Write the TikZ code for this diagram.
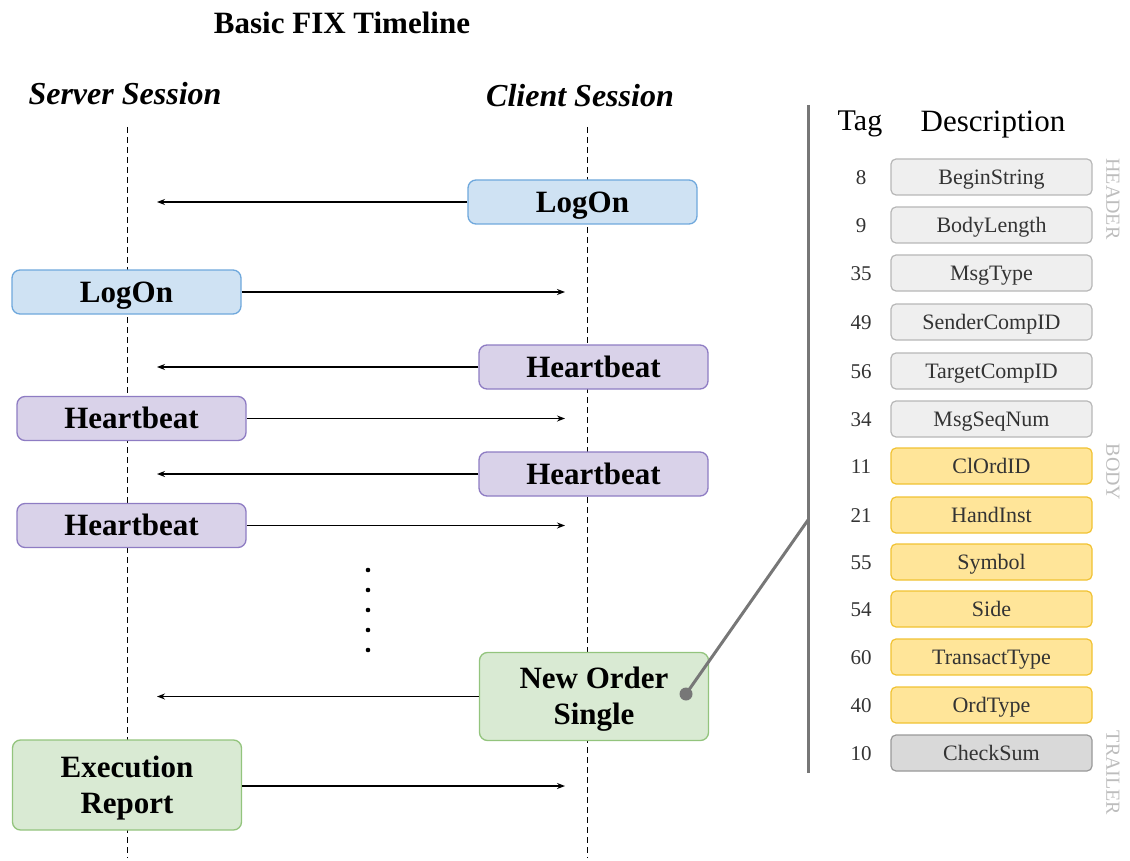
\documentclass[tikz,border=0pt]{standalone}
\usepackage{fontspec}
\setmainfont{Liberation Serif}
\usetikzlibrary{arrows.meta}
\definecolor{blueF}{HTML}{CFE2F3}\definecolor{blueD}{HTML}{6FA8DC}
\definecolor{purpF}{HTML}{D9D2E9}\definecolor{purpD}{HTML}{8E7CC3}
\definecolor{greenF}{HTML}{D9EAD3}\definecolor{greenD}{HTML}{93C47D}
\definecolor{hdrF}{HTML}{EFEFEF}\definecolor{hdrD}{HTML}{B7B7B7}
\definecolor{bodyF}{HTML}{FFE599}\definecolor{bodyD}{HTML}{F1C232}
\definecolor{trlF}{HTML}{D9D9D9}\definecolor{trlD}{HTML}{999999}
\definecolor{sidelbl}{HTML}{BDBDBD}
\definecolor{barcol}{HTML}{777777}
\definecolor{tagcol}{HTML}{333333}
\begin{document}
\begin{tikzpicture}[x=1pt,y=-1pt,
  msg/.style={draw, rounded corners=8pt, line width=1.3pt, minimum width=229pt,
    font=\fontsize{31}{36}\selectfont\bfseries, align=center, inner sep=0pt},
  one/.style={text height=20.5pt, text depth=0pt},
  two/.style={text height=56.5pt, text depth=0pt},
  logon/.style={msg, one, fill=blueF, draw=blueD, minimum height=44pt},
  heart/.style={msg, one, fill=purpF, draw=purpD, minimum height=44pt},
  order/.style={msg, two, fill=greenF, draw=greenD, minimum height=88pt},
  arr/.style={line width=1.3pt, -{Stealth[length=8pt,width=6pt]}},
  life/.style={line width=1pt, dash pattern=on 6pt off 4pt},
  field/.style={draw, rounded corners=5pt, line width=1.2pt, minimum width=201pt,
    minimum height=36pt, inner sep=0pt, font=\fontsize{22}{22}\selectfont, text=tagcol,
    text height=14.6pt, text depth=0pt},
  hdr/.style={field, fill=hdrF, draw=hdrD},
  bdy/.style={field, fill=bodyF, draw=bodyD},
  trl/.style={field, fill=trlF, draw=trlD},
  tagnum/.style={font=\fontsize{21}{21}\selectfont, text=tagcol, text height=14.5pt, text depth=0pt},
  side/.style={rotate=-90, text=sidelbl, font=\fontsize{20}{20}\selectfont},
  sess/.style={font=\fontsize{32}{32}\selectfont\bfseries\itshape, text height=21pt, text depth=0pt}
]
\useasboundingbox (0,0) rectangle (1130,861);

% title and session labels
\node[font=\fontsize{31}{31}\selectfont\bfseries, text height=20.5pt, text depth=0pt] (title) at (342,23) {Basic FIX Timeline};
\node[sess] (srv) at (125,94) {Server Session};
\node[sess] (cli) at (580,96) {Client Session};

% lifelines
\coordinate (Stop) at (127,127); \coordinate (Sbot) at (127,858);
\coordinate (Ctop) at (587,127); \coordinate (Cbot) at (587,858);
\draw[life] (Stop) -- (Sbot);
\draw[life] (Ctop) -- (Cbot);

% message boxes
\node[logon] (c1) at (582.5,202) {LogOn};
\node[logon] (s1) at (126.5,292) {LogOn};
\node[heart] (c2) at (593.5,367) {Heartbeat};
\node[heart] (s2) at (131.5,418.5) {Heartbeat};
\node[heart] (c3) at (593.5,474) {Heartbeat};
\node[heart] (s3) at (131.5,525.5) {Heartbeat};
\node[order] (c4) at (594,696.5) {New Order\\Single};
\node[order, minimum height=90pt] (s4) at (127,785) {Execution\\Report};

% arrow ends
\coordinate (a1) at (157,202);
\coordinate (a2) at (565,292);
\coordinate (a3) at (157,367);
\coordinate (a4) at (565,418.5);
\coordinate (a5) at (157,474);
\coordinate (a6) at (565,525.5);
\coordinate (a7) at (157,696.5);
\coordinate (a8) at (565,786);

\draw[arr] (c1.west) -- (a1);
\draw[arr] (s1.east) -- (a2);
\draw[arr] (c2.west) -- (a3);
\draw[arr] (s2.east) -- (a4);
\draw[arr] (c3.west) -- (a5);
\draw[arr] (s3.east) -- (a6);
\draw[arr] (c4.west) -- (a7);
\draw[arr] (s4.east |- a8) -- (a8);

% ellipsis dots
\foreach \yy in {570,590,610,630,650} \fill (368,\yy) circle (2.3pt);

% message detail bar
\coordinate (bartop) at (808,105);
\coordinate (barbot) at (808,773);
\coordinate (barjoin) at (808,520);
\draw[line width=3pt, barcol] (bartop) -- (barbot);
\node[circle, fill=barcol, inner sep=0pt, minimum size=13pt] (pin) at (686,694) {};
\draw[line width=3pt, barcol] (pin.center) -- (barjoin);

% table header
\node[font=\fontsize{30}{30}\selectfont, text height=20pt, text depth=0pt] (tagh) at (860,121) {Tag};
\node[font=\fontsize{31}{31}\selectfont, text height=20.5pt, text depth=0pt] (desch) at (993,121) {Description};

% table rows
\foreach \i/\t/\d/\s/\yy in {
  1/8/BeginString/hdr/177, 2/9/BodyLength/hdr/225, 3/35/MsgType/hdr/273,
  4/49/SenderCompID/hdr/322, 5/56/TargetCompID/hdr/371, 6/34/MsgSeqNum/hdr/419,
  7/11/ClOrdID/bdy/466, 8/21/HandInst/bdy/515, 9/55/Symbol/bdy/562,
  10/54/Side/bdy/609, 11/60/TransactType/bdy/657, 12/40/OrdType/bdy/705,
  13/10/CheckSum/trl/753}{
  \node[tagnum] (t\i) at (861,\yy) {\t};
  \node[\s] (d\i) at (991.5,\yy) {\d};
}

% section labels
\node[side] (lh) at (1113,199) {HEADER};
\node[side] (lb) at (1113,472) {BODY};
\node[side] (lt) at (1113,773) {TRAILER};
\end{tikzpicture}
\end{document}
